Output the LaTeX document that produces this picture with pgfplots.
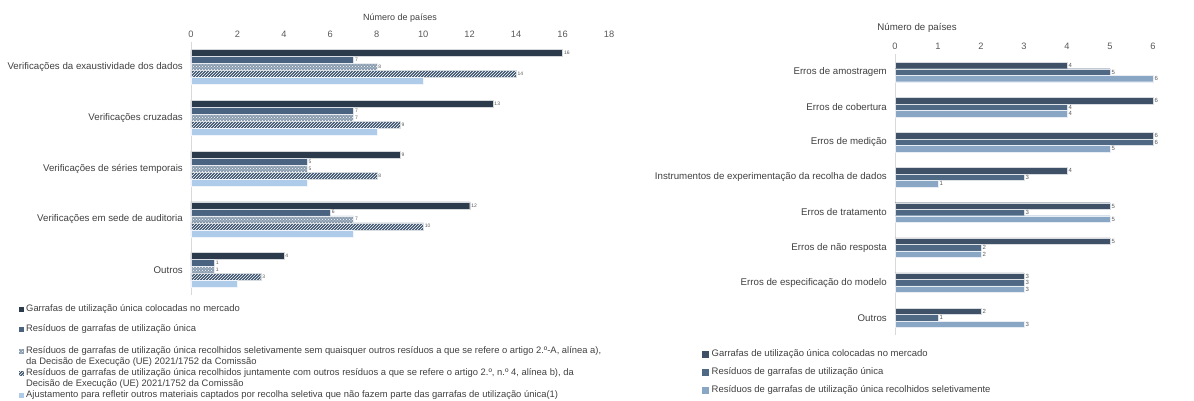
\documentclass[border=0pt]{standalone}
\usepackage{fontspec}
\setmainfont{Liberation Sans}
\usepackage{pgfplots}
\pgfplotsset{compat=1.18}
\usetikzlibrary{patterns}
\definecolor{la}{HTML}{2C3B4C}
\definecolor{lb}{HTML}{4A6380}
\definecolor{lc}{HTML}{8A9DB0}
\definecolor{ld}{HTML}{3E5570}
\definecolor{le}{HTML}{AECBEA}
\definecolor{ra}{HTML}{3E5166}
\definecolor{rb}{HTML}{4F6984}
\definecolor{rc}{HTML}{89A7C4}
\definecolor{txt}{HTML}{404040}
\definecolor{tck}{HTML}{595959}
\pgfplotsset{
  common/.style={
    scale only axis, xbar, point meta=x,
    /pgf/number format/assume math mode=true,
    axis x line*=top, axis y line*=left,
    x axis line style={draw=none},
    y axis line style={draw=black!15},
    major tick length=0pt,
    xticklabel style={font=\fontsize{9.3}{10}\selectfont, text=tck, yshift=1pt},
    yticklabel style={font=\fontsize{9.7}{11}\selectfont, text=txt, inner sep=0pt, xshift=-8pt},
    clip=false,
  },
  lbl/.style={nodes near coords, nodes near coords align=horizontal,
    every node near coord/.append style={font=\fontsize{5}{6}\selectfont, text=tck, anchor=west, inner sep=1.5pt}},
  rlbl/.style={nodes near coords, nodes near coords align=horizontal,
    every node near coord/.append style={font=\fontsize{6}{7}\selectfont, text=tck, anchor=west, inner sep=1.5pt}},
}
\begin{document}
\begin{tikzpicture}
\useasboundingbox (0,0) rectangle (1194pt,-401pt);
% ---------- left chart ----------
\begin{axis}[common,
  at={(191pt,-295.4pt)}, anchor=south west,
  width=418pt, height=253.75pt,
  xmin=0, xmax=18, xtick={0,2,...,18},
  ymin=-0.5, ymax=4.5, ytick={0,...,4},
  yticklabels={Outros, Verificações em sede de auditoria, Verificações de séries temporais, Verificações cruzadas, Verificações da exaustividade dos dados},
  bar width=7pt]
\addplot[lbl, fill=la, draw=white!80!la, line width=0.2pt, bar shift=14pt] coordinates {(16,4) (13,3) (9,2) (12,1) (4,0)};
\addplot[lbl, fill=lb, draw=white!80!lb, line width=0.2pt, bar shift=7pt] coordinates {(7,4) (7,3) (5,2) (6,1) (1,0)};
\addplot[lbl, fill=lc, draw=white!80!lc, line width=0.2pt, bar shift=0pt, postaction={pattern=crosshatch dots, pattern color=white}] coordinates {(8,4) (7,3) (5,2) (7,1) (1,0)};
\addplot[lbl, fill=ld, draw=white!80!ld, line width=0.2pt, bar shift=-7pt, postaction={pattern=north east lines, pattern color=white}] coordinates {(14,4) (9,3) (8,2) (10,1) (3,0)};
\addplot[fill=le, draw=white!80!le, line width=0.2pt, bar shift=-14pt] coordinates {(10,4) (8,3) (5,2) (7,1) (2,0)};
\end{axis}
\node[font=\fontsize{9}{10}\selectfont, text=txt] at (400pt,-18pt) {Número de países};
% left legend
\fill[la] (18.5pt,-306.5pt) rectangle (23.5pt,-311.5pt);
\node[anchor=west, inner sep=0pt, font=\fontsize{9.4}{10}\selectfont, text=txt] at (26pt,-309pt) {Garrafas de utilização única colocadas no mercado};
\fill[lb] (18.5pt,-326.5pt) rectangle (23.5pt,-331.5pt);
\node[anchor=west, inner sep=0pt, font=\fontsize{9.4}{10}\selectfont, text=txt] at (26pt,-329pt) {Resíduos de garrafas de utilização única};
\fill[lc] (18.5pt,-348.5pt) rectangle (23.5pt,-353.5pt);
\fill[pattern=crosshatch dots, pattern color=white] (18.5pt,-348.5pt) rectangle (23.5pt,-353.5pt);
\node[anchor=west, inner sep=0pt, font=\fontsize{9.4}{10}\selectfont, text=txt] at (26pt,-351pt) {Resíduos de garrafas de utilização única recolhidos seletivamente sem quaisquer outros resíduos a que se refere o artigo 2.º-A, alínea a),};
\node[anchor=west, inner sep=0pt, font=\fontsize{9.4}{10}\selectfont, text=txt] at (26pt,-362pt) {da Decisão de Execução (UE) 2021/1752 da Comissão};
\fill[ld] (18.5pt,-370.5pt) rectangle (23.5pt,-375.5pt);
\fill[pattern=north east lines, pattern color=white] (18.5pt,-370.5pt) rectangle (23.5pt,-375.5pt);
\node[anchor=west, inner sep=0pt, font=\fontsize{9.4}{10}\selectfont, text=txt] at (26pt,-373pt) {Resíduos de garrafas de utilização única recolhidos juntamente com outros resíduos a que se refere o artigo 2.º, n.º 4, alínea b), da};
\node[anchor=west, inner sep=0pt, font=\fontsize{9.4}{10}\selectfont, text=txt] at (26pt,-384pt) {Decisão de Execução (UE) 2021/1752 da Comissão};
\fill[le] (18.5pt,-392.5pt) rectangle (23.5pt,-397.5pt);
\node[anchor=west, inner sep=0pt, font=\fontsize{9.4}{10}\selectfont, text=txt] at (26pt,-395pt) {Ajustamento para refletir outros materiais captados por recolha seletiva que não fazem parte das garrafas de utilização única(1)};
% ---------- right chart ----------
\begin{axis}[common,
  at={(895pt,-335.4pt)}, anchor=south west,
  width=298.85pt, height=281pt,
  xmin=0, xmax=6.95, xtick={0,...,6},
  ymin=-0.5, ymax=7.5, ytick={0,...,7},
  yticklabels={Outros, Erros de especificação do modelo, Erros de não resposta, Erros de tratamento, Instrumentos de experimentação da recolha de dados, Erros de medição, Erros de cobertura, Erros de amostragem},
  bar width=6.5pt]
\addplot[rlbl, fill=ra, draw=white!80!ra, line width=0.2pt, bar shift=6.5pt] coordinates {(4,7) (6,6) (6,5) (4,4) (5,3) (5,2) (3,1) (2,0)};
\addplot[rlbl, fill=rb, draw=white!80!rb, line width=0.2pt, bar shift=0pt] coordinates {(5,7) (4,6) (6,5) (3,4) (3,3) (2,2) (3,1) (1,0)};
\addplot[rlbl, fill=rc, draw=white!80!rc, line width=0.2pt, bar shift=-6.5pt] coordinates {(6,7) (4,6) (5,5) (1,4) (5,3) (2,2) (3,1) (3,0)};
\end{axis}
\node[font=\fontsize{9.7}{11}\selectfont, text=txt] at (917pt,-28pt) {Número de países};
% right legend
\fill[ra] (702pt,-350.5pt) rectangle (709pt,-357.5pt);
\node[anchor=west, inner sep=0pt, font=\fontsize{9.5}{11}\selectfont, text=txt] at (711.5pt,-354pt) {Garrafas de utilização única colocadas no mercado};
\fill[rb] (702pt,-368.5pt) rectangle (709pt,-375.5pt);
\node[anchor=west, inner sep=0pt, font=\fontsize{9.5}{11}\selectfont, text=txt] at (711.5pt,-372pt) {Resíduos de garrafas de utilização única};
\fill[rc] (702pt,-386.5pt) rectangle (709pt,-393.5pt);
\node[anchor=west, inner sep=0pt, font=\fontsize{9.5}{11}\selectfont, text=txt] at (711.5pt,-390pt) {Resíduos de garrafas de utilização única recolhidos seletivamente};
\end{tikzpicture}
\end{document}
